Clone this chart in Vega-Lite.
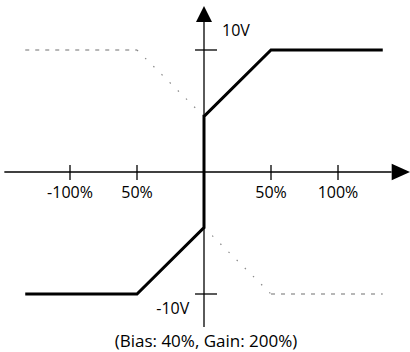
{
  "$schema": "https://vega.github.io/schema/vega-lite/v6.json",
  "width": 410,
  "height": 352,
  "autosize": {"type": "fit", "contains": "padding"},
  "padding": 0,
  "background": "white",
  "config": {"view": {"stroke": null}, "text": {"font": "Open Sans", "fontSize": 16, "color": "black"}},
  "datasets": {
    "one": [{}],
    "solid": [
      {"pct": -133.4, "volt": -10, "order": 1},
      {"pct": -50, "volt": -10, "order": 2},
      {"pct": 0, "volt": -4.55, "order": 3},
      {"pct": 0, "volt": 4.55, "order": 4},
      {"pct": 50, "volt": 10, "order": 5},
      {"pct": 133.4, "volt": 10, "order": 6}
    ],
    "dashed": [
      {"pct": -133.4, "volt": 10, "seg": "a"},
      {"pct": -50, "volt": 10, "seg": "a"},
      {"pct": 50, "volt": -10, "seg": "b"},
      {"pct": 133.4, "volt": -10, "seg": "b"}
    ],
    "dotted": [
      {"pct": -50, "volt": 10, "seg": "a"},
      {"pct": 0, "volt": 4.55, "seg": "a"},
      {"pct": 0, "volt": -4.55, "seg": "b"},
      {"pct": 50, "volt": -10, "seg": "b"}
    ],
    "xticks": [
      {"pct": -100, "label": "-100%"},
      {"pct": -50, "label": "50%"},
      {"pct": 50, "label": "50%"},
      {"pct": 100, "label": "100%"}
    ],
    "yticks": [
      {"volt": 10, "label": "10V"},
      {"volt": -10, "label": "-10V"}
    ]
  },
  "layer": [
    {
      "data": {"name": "one"},
      "mark": {"type": "rule", "color": "black", "strokeWidth": 1.3},
      "encoding": {
        "x": {"datum": -149, "type": "quantitative", "scale": {"domain": [-152.24, 153.73], "nice": false, "zero": false}, "axis": null},
        "x2": {"datum": 140},
        "y": {"datum": 0, "type": "quantitative", "scale": {"domain": [-14.754, 14.098], "nice": false, "zero": false}, "axis": null}
      }
    },
    {
      "data": {"name": "one"},
      "mark": {"type": "rule", "color": "black", "strokeWidth": 1.3},
      "encoding": {
        "x": {"datum": 0, "type": "quantitative"},
        "y": {"datum": 12.3, "type": "quantitative"},
        "y2": {"datum": -12.7}
      }
    },
    {
      "data": {"name": "one"},
      "mark": {"type": "point", "shape": "M-1,-0.9L1,0L-1,0.9Z", "filled": true, "color": "black", "opacity": 1, "size": 335},
      "encoding": {
        "x": {"datum": 146.9, "type": "quantitative"},
        "y": {"datum": 0, "type": "quantitative"}
      }
    },
    {
      "data": {"name": "one"},
      "mark": {"type": "point", "shape": "M0,-1L1,1L-1,1Z", "filled": true, "color": "black", "opacity": 1, "size": 256},
      "encoding": {
        "x": {"datum": 0, "type": "quantitative"},
        "y": {"datum": 12.96, "type": "quantitative"}
      }
    },
    {
      "data": {"name": "xticks"},
      "mark": {"type": "rule", "color": "black", "strokeWidth": 1.3},
      "encoding": {
        "x": {"field": "pct", "type": "quantitative"},
        "y": {"datum": 0.57, "type": "quantitative"},
        "y2": {"datum": -0.66}
      }
    },
    {
      "data": {"name": "xticks"},
      "mark": {"type": "text", "align": "center", "baseline": "alphabetic", "dy": 26.5},
      "encoding": {
        "x": {"field": "pct", "type": "quantitative"},
        "y": {"datum": 0, "type": "quantitative"},
        "text": {"field": "label"}
      }
    },
    {
      "data": {"name": "yticks"},
      "mark": {"type": "rule", "color": "black", "strokeWidth": 1.3},
      "encoding": {
        "y": {"field": "volt", "type": "quantitative"},
        "x": {"datum": -6.7, "type": "quantitative"},
        "x2": {"datum": 9.7}
      }
    },
    {
      "data": {"name": "yticks"},
      "transform": [{"filter": "datum.volt > 0"}],
      "mark": {"type": "text", "align": "left", "baseline": "alphabetic", "dx": 18, "dy": -13.5},
      "encoding": {
        "x": {"datum": 0, "type": "quantitative"},
        "y": {"field": "volt", "type": "quantitative"},
        "text": {"field": "label"}
      }
    },
    {
      "data": {"name": "yticks"},
      "transform": [{"filter": "datum.volt < 0"}],
      "mark": {"type": "text", "align": "right", "baseline": "alphabetic", "dx": -14.7, "dy": 19.5},
      "encoding": {
        "x": {"datum": 0, "type": "quantitative"},
        "y": {"field": "volt", "type": "quantitative"},
        "text": {"field": "label"}
      }
    },
    {
      "data": {"name": "dashed"},
      "mark": {"type": "line", "color": "#707070", "strokeWidth": 1.2, "strokeDash": [4, 6]},
      "encoding": {
        "x": {"field": "pct", "type": "quantitative"},
        "y": {"field": "volt", "type": "quantitative"},
        "detail": {"field": "seg"}
      }
    },
    {
      "data": {"name": "dotted"},
      "mark": {"type": "line", "color": "#888888", "strokeWidth": 1.2, "strokeDash": [1.5, 10]},
      "encoding": {
        "x": {"field": "pct", "type": "quantitative"},
        "y": {"field": "volt", "type": "quantitative"},
        "detail": {"field": "seg"}
      }
    },
    {
      "data": {"name": "solid"},
      "mark": {"type": "line", "color": "black", "strokeWidth": 3, "strokeJoin": "miter"},
      "encoding": {
        "x": {"field": "pct", "type": "quantitative"},
        "y": {"field": "volt", "type": "quantitative"},
        "order": {"field": "order"}
      }
    },
    {
      "data": {"name": "one"},
      "mark": {"type": "text", "align": "center", "baseline": "alphabetic", "dy": 52.5, "fontSize": 17},
      "encoding": {
        "x": {"datum": 1.5, "type": "quantitative"},
        "y": {"datum": -10, "type": "quantitative"},
        "text": {"value": "(Bias: 40%, Gain: 200%)"}
      }
    }
  ]
}
